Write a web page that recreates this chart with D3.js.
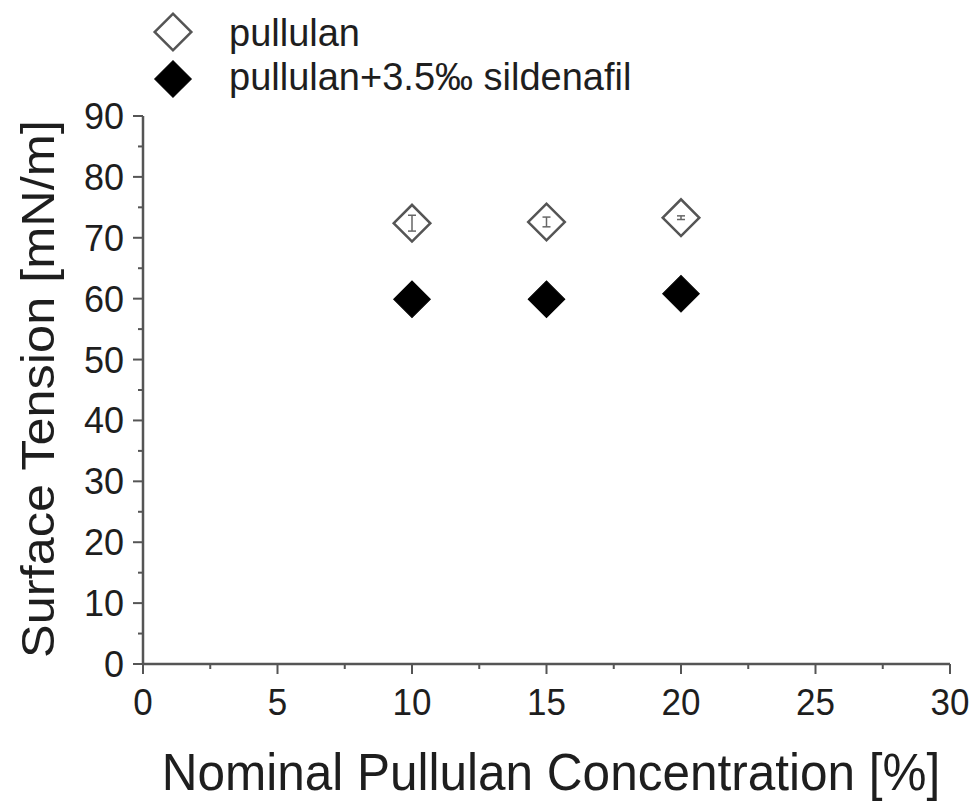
<!DOCTYPE html>
<html>
<head>
<meta charset="utf-8">
<script src="https://cdn.jsdelivr.net/npm/d3@7"></script>
<style>
  html, body { margin: 0; padding: 0; background: #fff; }
  svg { display: block; }
  text { font-family: "Liberation Sans", Arial, sans-serif; fill: #1e1e1e; }
</style>
</head>
<body>
<svg id="chart" width="979" height="801"></svg>
<script>
// ---- data ----
const concentrations = [10, 15, 20];
const pullulan = [72.4, 72.6, 73.3];
const pullulanErr = [1.3, 0.8, 0.3];
const sildenafil = [59.9, 59.9, 60.8];
const sildenafilErr = [0.5, 0.5, 0.5];
const seriesNames = ["pullulan", "pullulan+3.5\u2030 sildenafil"];
const xTicks = [0, 5, 10, 15, 20, 25, 30];
const yTicks = [0, 10, 20, 30, 40, 50, 60, 70, 80, 90];
const xLabel = "Nominal Pullulan Concentration [%]";
const yLabel = "Surface Tension [mN/m]";

// ---- layout ----
const svg = d3.select("#chart");
const axisColor = "#555";
const x = d3.scaleLinear().domain([0, 30]).range([143, 950]);
const y = d3.scaleLinear().domain([0, 90]).range([664, 116]);

// stretched text helper
function stretchedText(parent, tx, ty, str, size, sy, anchor, rot) {
  const g = parent.append("g")
    .attr("transform", `translate(${tx},${ty})` + (rot ? ` rotate(${rot})` : "") + ` scale(1,${sy})`);
  return g.append("text").attr("x", 0).attr("y", 0)
    .attr("font-size", size).attr("text-anchor", anchor).text(str);
}

// ---- axes ----
const xMinor = d3.range(0, 30.01, 2.5).filter(v => v % 5 !== 0);
const yMinor = d3.range(0, 90.01, 5).filter(v => v % 10 !== 0);

const axes = svg.append("g").attr("stroke", axisColor).attr("fill", "none");
axes.append("line").attr("x1", x(0)).attr("x2", x(30)).attr("y1", y(0)).attr("y2", y(0)).attr("stroke-width", 2.5);
axes.append("line").attr("x1", x(0)).attr("x2", x(0)).attr("y1", y(0)).attr("y2", y(90)).attr("stroke-width", 2.5);
axes.selectAll(".xt").data(xTicks).enter().append("line")
  .attr("x1", d => x(d)).attr("x2", d => x(d)).attr("y1", y(0)).attr("y2", y(0) + 10).attr("stroke-width", 2);
axes.selectAll(".xm").data(xMinor).enter().append("line")
  .attr("x1", d => x(d)).attr("x2", d => x(d)).attr("y1", y(0)).attr("y2", y(0) + 5).attr("stroke-width", 2);
axes.selectAll(".yt").data(yTicks).enter().append("line")
  .attr("x1", x(0) - 10).attr("x2", x(0)).attr("y1", d => y(d)).attr("y2", d => y(d)).attr("stroke-width", 2);
axes.selectAll(".ym").data(yMinor).enter().append("line")
  .attr("x1", x(0) - 5).attr("x2", x(0)).attr("y1", d => y(d)).attr("y2", d => y(d)).attr("stroke-width", 2);

// tick labels
const tl = svg.append("g");
xTicks.forEach(v => stretchedText(tl, x(v), 715, String(v), 35, 1.05, "middle"));
yTicks.forEach(v => stretchedText(tl, 124, y(v) + 13, String(v), 36, 1.05, "end"));

// axis titles
stretchedText(svg, 551, 790, xLabel, 49.5, 1.06, "middle");
stretchedText(svg, 54, 389, yLabel, 50.5, 0.93, "middle", -90);

// ---- markers ----
const diamond = d3.symbol().type(d3.symbolSquare).size(670)();
function drawDiamond(g, cx, cy, filled) {
  g.append("path").attr("d", diamond)
    .attr("transform", `translate(${cx},${cy}) rotate(45)`)
    .attr("fill", filled ? "#000" : "#fff")
    .attr("stroke", filled ? "#000" : "#555")
    .attr("stroke-width", filled ? 1 : 2.5);
}

const marks = svg.append("g");
// open series with error bars
concentrations.forEach((c, i) => {
  drawDiamond(marks, x(c), y(pullulan[i]), false);
  const e = marks.append("g").attr("stroke", "#666").attr("stroke-width", 1.5);
  e.append("line").attr("x1", x(c)).attr("x2", x(c))
    .attr("y1", y(pullulan[i] - pullulanErr[i])).attr("y2", y(pullulan[i] + pullulanErr[i]));
  e.append("line").attr("x1", x(c) - 4).attr("x2", x(c) + 4)
    .attr("y1", y(pullulan[i] - pullulanErr[i])).attr("y2", y(pullulan[i] - pullulanErr[i]));
  e.append("line").attr("x1", x(c) - 4).attr("x2", x(c) + 4)
    .attr("y1", y(pullulan[i] + pullulanErr[i])).attr("y2", y(pullulan[i] + pullulanErr[i]));
});
concentrations.forEach((c, i) => {
  const e = marks.append("g").attr("stroke", "#000").attr("stroke-width", 1.5);
  e.append("line").attr("x1", x(c)).attr("x2", x(c))
    .attr("y1", y(sildenafil[i] - sildenafilErr[i])).attr("y2", y(sildenafil[i] + sildenafilErr[i]));
  drawDiamond(marks, x(c), y(sildenafil[i]), true);
});

// ---- legend ----
const lg = svg.append("g");
drawDiamond(lg, 173, 32, false);
drawDiamond(lg, 173, 79, true);
stretchedText(lg, 229, 46, seriesNames[0], 38, 1.0, "start");
stretchedText(lg, 229, 90, seriesNames[1], 38, 1.0, "start");
</script>
</body>
</html>
